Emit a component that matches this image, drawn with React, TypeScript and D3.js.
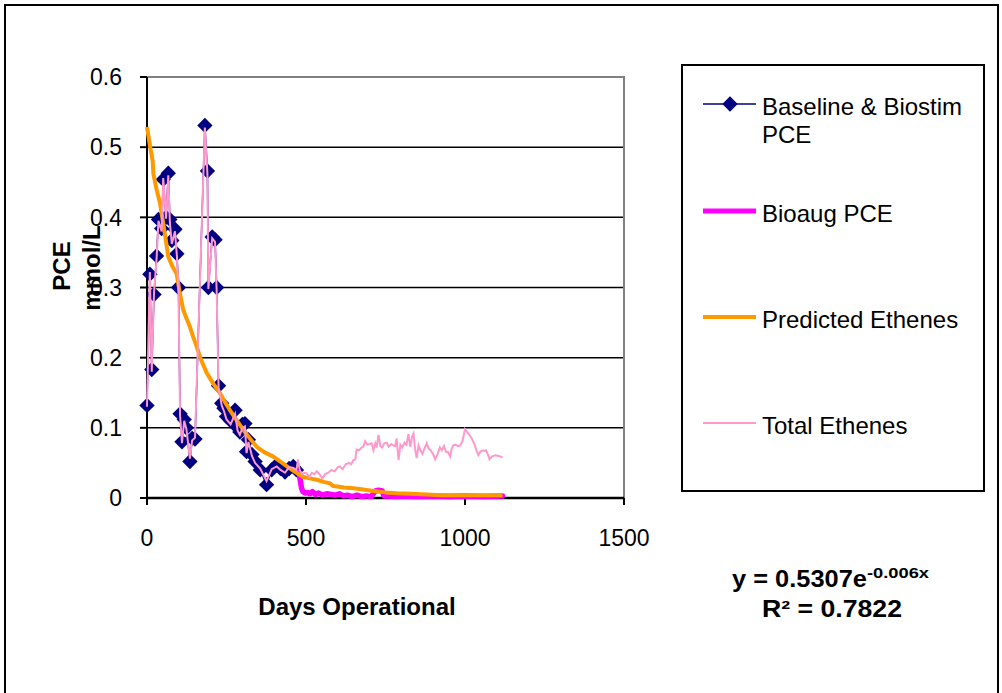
import { useEffect, useRef } from 'react';
import * as d3 from 'd3';

// Baseline & Biostim PCE (mmol/L) by day
const baseDays = [0, 9, 15, 22, 30, 36, 46, 51, 60, 67, 72, 78, 88, 94, 99, 104, 110, 117, 124, 135, 142, 151,
  182, 190, 193, 205, 214, 219, 225, 235, 242, 250, 263, 277, 285, 292, 300, 308, 313, 319, 330, 340, 356, 376,
  392, 408, 420, 434, 447, 460, 470];
const baseValues = [0.132, 0.319, 0.183, 0.290, 0.345, 0.397, 0.384, 0.454, 0.400, 0.463, 0.397, 0.367, 0.383,
  0.348, 0.300, 0.120, 0.080, 0.112, 0.100, 0.052, 0.085, 0.084, 0.531, 0.466, 0.300, 0.372, 0.368, 0.300, 0.160,
  0.135, 0.128, 0.116, 0.110, 0.125, 0.100, 0.094, 0.105, 0.106, 0.066, 0.083, 0.062, 0.052, 0.040, 0.019, 0.040,
  0.047, 0.042, 0.037, 0.042, 0.045, 0.040];

// Bioaug PCE
const bioaugDays = [478, 482, 486, 490, 498, 505, 512, 520, 530, 540, 552, 565, 580, 592, 605, 618, 630, 645, 660,
  675, 690, 705, 718, 728, 740, 745, 760, 780, 800, 850, 900, 950, 1000, 1060, 1118];
const bioaugValues = [0.036, 0.025, 0.014, 0.009, 0.007, 0.008, 0.006, 0.009, 0.005, 0.007, 0.004, 0.006, 0.005,
  0.004, 0.006, 0.003, 0.004, 0.002, 0.004, 0.002, 0.003, 0.002, 0.010, 0.011, 0.010, 0.003, 0.003, 0.002, 0.003,
  0.002, 0.003, 0.002, 0.003, 0.002, 0.003];

// Predicted Ethenes
const predDays = [0, 10, 18, 20, 30, 41, 55, 67, 80, 93, 104, 114, 125, 135, 145, 156, 170, 188, 210, 230, 245, 261,
  280, 303, 325, 345, 370, 397, 425, 450, 470, 492, 512, 534, 555, 575, 586, 620, 649, 680, 712, 750, 785, 830, 880,
  927, 1000, 1118];
const predValues = [0.529, 0.500, 0.480, 0.462, 0.440, 0.420, 0.380, 0.344, 0.330, 0.320, 0.290, 0.268, 0.255,
  0.244, 0.230, 0.216, 0.197, 0.178, 0.162, 0.149, 0.137, 0.125, 0.112, 0.097, 0.084, 0.073, 0.065, 0.059, 0.050,
  0.042, 0.036, 0.030, 0.028, 0.026, 0.023, 0.021, 0.017, 0.015, 0.014, 0.012, 0.010, 0.008, 0.0067, 0.006, 0.005,
  0.004, 0.004, 0.004];

// Total Ethenes
const totalDays = [0, 9, 15, 22, 30, 36, 46, 51, 60, 67, 72, 78, 88, 94, 99, 104, 110, 117, 124, 135, 142, 151,
  182, 190, 193, 205, 214, 219, 225, 235, 242, 250, 263, 277, 285, 292, 300, 308, 313, 319, 330, 340, 356, 376,
  392, 408, 420, 434, 447, 460, 470, 475, 480, 488, 495, 502, 510, 518, 526, 534, 544, 552, 560, 570, 580, 590,
  600, 607, 615, 625, 635, 642, 649, 655, 659, 667, 675, 680, 686, 693, 700, 706, 712, 718, 722, 728, 734, 740,
  746, 754, 760, 768, 774, 780, 785, 791, 797, 803, 810, 816, 822, 828, 834, 838, 843, 848, 854, 860, 866, 874,
  880, 886, 892, 900, 906, 914, 921, 927, 934, 940, 947, 953, 958, 963, 970, 978, 985, 992, 1000, 1008, 1015,
  1021, 1030, 1036, 1042, 1048, 1055, 1060, 1066, 1072, 1077, 1085, 1095, 1105, 1118];
const totalValues = [0.130, 0.322, 0.180, 0.292, 0.340, 0.395, 0.380, 0.456, 0.398, 0.460, 0.392, 0.362, 0.380,
  0.345, 0.296, 0.118, 0.078, 0.110, 0.098, 0.056, 0.082, 0.086, 0.528, 0.462, 0.298, 0.370, 0.365, 0.296, 0.158,
  0.132, 0.124, 0.112, 0.105, 0.120, 0.096, 0.090, 0.100, 0.102, 0.064, 0.080, 0.060, 0.050, 0.042, 0.024, 0.041,
  0.045, 0.040, 0.036, 0.044, 0.043, 0.040, 0.055, 0.040, 0.034, 0.036, 0.035, 0.030, 0.036, 0.034, 0.038, 0.033,
  0.028, 0.034, 0.036, 0.040, 0.038, 0.044, 0.045, 0.041, 0.048, 0.050, 0.048, 0.054, 0.055, 0.069, 0.068, 0.072,
  0.073, 0.081, 0.076, 0.077, 0.078, 0.068, 0.078, 0.072, 0.090, 0.074, 0.072, 0.078, 0.079, 0.073, 0.077, 0.075,
  0.074, 0.085, 0.054, 0.076, 0.072, 0.079, 0.076, 0.091, 0.073, 0.088, 0.092, 0.070, 0.057, 0.075, 0.068, 0.063,
  0.072, 0.078, 0.070, 0.068, 0.062, 0.055, 0.063, 0.072, 0.068, 0.074, 0.066, 0.065, 0.059, 0.070, 0.075, 0.076,
  0.074, 0.075, 0.081, 0.098, 0.093, 0.089, 0.085, 0.076, 0.068, 0.061, 0.066, 0.068, 0.067, 0.068, 0.062, 0.055,
  0.059, 0.061, 0.060, 0.058];

const xTicks = [0, 500, 1000, 1500];
const yTicks = [0, 0.1, 0.2, 0.3, 0.4, 0.5, 0.6];
const legendLabels = [['Baseline & Biostim', 'PCE'], ['Bioaug PCE'], ['Predicted Ethenes'], ['Total Ethenes']];

const FONT = '"Liberation Sans", Arial, sans-serif';

const App = () => {
  const svgRef = useRef<SVGSVGElement>(null);

  useEffect(() => {
    if (!svgRef.current) return;
    const svg = d3.select(svgRef.current);
    svg.selectAll('*').remove();

    const plot = { left: 147, right: 624, top: 77, bottom: 498 };
    const x = d3.scaleLinear().domain([0, 1500]).range([plot.left, plot.right]);
    const y = d3.scaleLinear().domain([0, 0.6]).range([plot.bottom, plot.top]);

    // outer chart border
    svg.append('rect')
      .attr('x', 5).attr('y', 5).attr('width', 993).attr('height', 700)
      .attr('fill', 'white').attr('stroke', 'black').attr('stroke-width', 2);

    // gridlines
    svg.append('g').selectAll('line')
      .data(yTicks.filter(t => t > 0 && t < 0.6))
      .join('line')
      .attr('x1', plot.left).attr('x2', plot.right)
      .attr('y1', d => y(d)).attr('y2', d => y(d))
      .attr('stroke', 'black').attr('stroke-width', 1.5);

    // plot area border top/right (gray)
    svg.append('path')
      .attr('d', `M${plot.left},${y(0.6)}H${plot.right}V${plot.bottom}`)
      .attr('fill', 'none').attr('stroke', '#808080').attr('stroke-width', 2);

    // axes
    const yAxis = svg.append('g');
    yAxis.append('line')
      .attr('x1', plot.left).attr('x2', plot.left).attr('y1', plot.top).attr('y2', plot.bottom)
      .attr('stroke', 'black').attr('stroke-width', 2);
    yAxis.selectAll('line.tick').data(yTicks).join('line').attr('class', 'tick')
      .attr('x1', plot.left - 7).attr('x2', plot.left)
      .attr('y1', d => y(d)).attr('y2', d => y(d))
      .attr('stroke', 'black').attr('stroke-width', 2);
    yAxis.selectAll('text').data(yTicks).join('text')
      .attr('x', 122).attr('y', d => y(d)).attr('dy', '0.36em')
      .attr('text-anchor', 'end')
      .style('font-family', FONT).style('font-size', '23px')
      .text(d => (d === 0 ? '0' : d.toFixed(1)));

    const xAxis = svg.append('g');
    xAxis.append('line')
      .attr('x1', plot.left).attr('x2', plot.right).attr('y1', plot.bottom).attr('y2', plot.bottom)
      .attr('stroke', 'black').attr('stroke-width', 2.5);
    xAxis.selectAll('line.tick').data(xTicks).join('line').attr('class', 'tick')
      .attr('x1', d => x(d)).attr('x2', d => x(d))
      .attr('y1', plot.bottom).attr('y2', plot.bottom + 7)
      .attr('stroke', 'black').attr('stroke-width', 2);
    xAxis.selectAll('text').data(xTicks).join('text')
      .attr('x', d => x(d)).attr('y', 546)
      .attr('text-anchor', 'middle')
      .style('font-family', FONT).style('font-size', '23px')
      .text(d => d);

    // axis titles
    svg.append('text')
      .attr('x', 357).attr('y', 615).attr('text-anchor', 'middle')
      .style('font-family', FONT).style('font-size', '24px').style('font-weight', 'bold')
      .text('Days Operational');
    svg.append('text')
      .attr('transform', 'translate(70,266) rotate(-90)').attr('text-anchor', 'middle')
      .style('font-family', FONT).style('font-size', '24px').style('font-weight', 'bold')
      .text('PCE');
    svg.append('text')
      .attr('transform', 'translate(100,268) rotate(-90)').attr('text-anchor', 'middle')
      .style('font-family', FONT).style('font-size', '24px').style('font-weight', 'bold')
      .text('mmol/L');

    const line = d3.line<[number, number]>().x(d => x(d[0])).y(d => y(d[1]));
    const zip = (a: number[], b: number[]) => a.map((d, i) => [d, b[i]] as [number, number]);
    const diamond = d3.symbol().type(d3.symbolDiamond2).size(150);

    const base = zip(baseDays, baseValues);
    svg.append('path').attr('d', line(base)).attr('fill', 'none')
      .attr('stroke', '#000080').attr('stroke-width', 1.5);
    svg.append('g').selectAll('path').data(base).join('path')
      .attr('transform', d => `translate(${x(d[0])},${y(d[1])})`)
      .attr('d', diamond()).attr('fill', '#000080');

    svg.append('path').attr('d', line(zip(bioaugDays, bioaugValues))).attr('fill', 'none')
      .attr('stroke', '#FF00FF').attr('stroke-width', 5.5).attr('stroke-linejoin', 'round').attr('stroke-linecap', 'round');

    svg.append('path').attr('d', line(zip(predDays, predValues))).attr('fill', 'none')
      .attr('stroke', '#FF9900').attr('stroke-width', 4).attr('stroke-linejoin', 'round');

    svg.append('path').attr('d', line(zip(totalDays, totalValues))).attr('fill', 'none')
      .attr('stroke', '#FF99CC').attr('stroke-width', 2);

    // legend
    const lg = svg.append('g');
    lg.append('rect').attr('x', 682).attr('y', 65).attr('width', 302).attr('height', 426)
      .attr('fill', 'white').attr('stroke', 'black').attr('stroke-width', 2);
    const rows = [
      { y: 104, color: '#000080', width: 1.5, marker: true },
      { y: 211, color: '#FF00FF', width: 5, marker: false },
      { y: 317, color: '#FF9900', width: 4, marker: false },
      { y: 423, color: '#FF99CC', width: 2, marker: false },
    ];
    rows.forEach((r, i) => {
      lg.append('line').attr('x1', 703).attr('x2', 756).attr('y1', r.y).attr('y2', r.y)
        .attr('stroke', r.color).attr('stroke-width', r.width);
      if (r.marker) {
        lg.append('path').attr('transform', `translate(730,${r.y})`).attr('d', diamond()).attr('fill', r.color);
      }
      legendLabels[i].forEach((t, j) => {
        lg.append('text').attr('x', 762).attr('y', r.y + 11 + j * 28)
          .style('font-family', FONT).style('font-size', '24px')
          .text(t);
      });
    });

    // trendline equation
    const eq = svg.append('g').style('font-family', FONT).style('font-weight', 'bold');
    eq.append('text').attr('x', 732).attr('y', 587).attr('textLength', 135)
      .attr('lengthAdjust', 'spacingAndGlyphs').style('font-size', '23px')
      .text('y = 0.5307e');
    eq.append('text').attr('x', 867).attr('y', 578).attr('textLength', 62)
      .attr('lengthAdjust', 'spacingAndGlyphs').style('font-size', '15px')
      .text('-0.006x');
    eq.append('text').attr('x', 762).attr('y', 617).attr('textLength', 140)
      .attr('lengthAdjust', 'spacingAndGlyphs').style('font-size', '23px')
      .text('R² = 0.7822');
  }, []);

  return (
    <div style={{ position: 'absolute', left: 0, top: 0 }}>
      <svg ref={svgRef} width={1002} height={693} style={{ display: 'block' }} />
    </div>
  );
};

export default App;
